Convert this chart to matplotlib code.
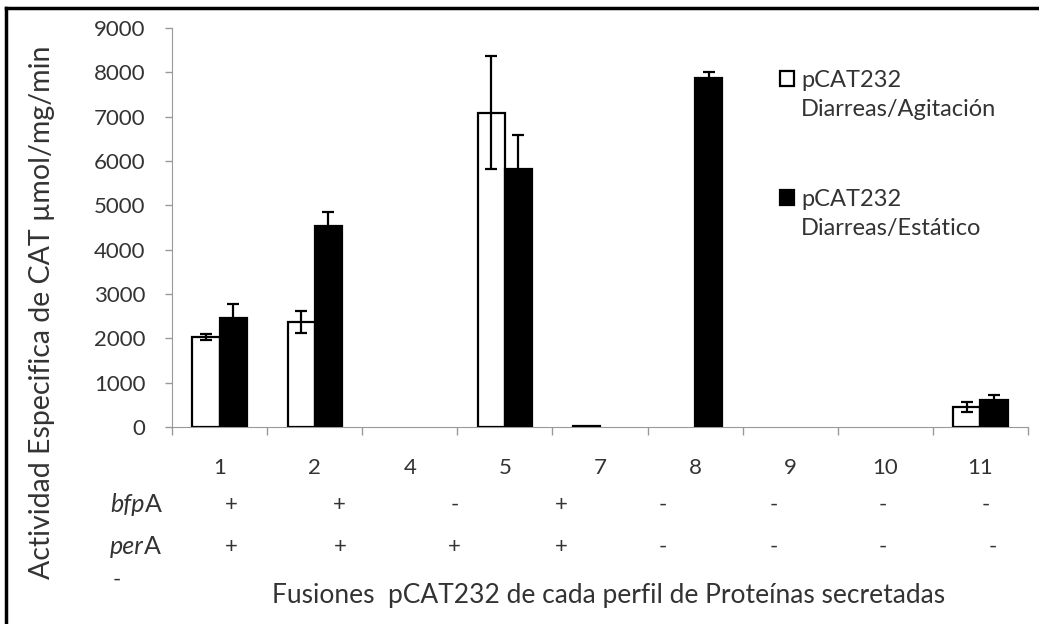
import matplotlib
matplotlib.use('Agg')
import matplotlib.pyplot as plt
from matplotlib.lines import Line2D
import numpy as np

plt.rcParams['font.family'] = ['Lato', 'DejaVu Sans']

# datos
cats = ['1', '2', '4', '5', '7', '8', '9', '10', '11']
agit = [2030, 2370, np.nan, 7090, 30, np.nan, np.nan, np.nan, 450]
agit_err = [70, 240, np.nan, 1270, np.nan, np.nan, np.nan, np.nan, 120]
estat = [2460, 4540, np.nan, 5820, np.nan, 7880, np.nan, np.nan, 610]
estat_err = [320, 310, np.nan, 770, np.nan, 130, np.nan, np.nan, 120]
series_names = ['pCAT232', 'pCAT232']
series_cond = ['Diarreas/Agitación', 'Diarreas/Estático']
bfp_signs = ['+', '+', '-', '+', '-', '-', '-', '-']
per_signs = ['+', '+', '+', '+', '-', '-', '-', '-']
bfp_xpx = [231, 339, 455, 561, 663, 774, 883, 986]
per_xpx = [231, 340, 454, 561, 663, 774, 883, 993]

W, H = 1039, 624
TXT = '#333333'
fig = plt.figure(figsize=(W / 100, H / 100), dpi=100)
ax = fig.add_axes([172 / W, 1 - 427 / H, (1028 - 172) / W, (427 - 28) / H])

x = np.arange(len(cats))
w = 0.285
ekw = dict(ecolor='black', elinewidth=1.6, capthick=1.6)
b1 = ax.bar(x - w / 2, agit, w, color='white', edgecolor='black', linewidth=1.6,
            yerr=agit_err, capsize=4.5, error_kw=ekw, zorder=3)
b2 = ax.bar(x + w / 2, estat, w, color='black', edgecolor='black', linewidth=1.6,
            yerr=estat_err, capsize=4.5, error_kw=ekw, zorder=3)

ax.set_xlim(-0.5, len(cats) - 0.5)
ax.set_ylim(0, 9000)
ax.set_yticks(np.arange(0, 9001, 1000))
ax.tick_params(axis='y', labelsize=16, colors='#999999', labelcolor=TXT,
               length=5, width=1, pad=14)
ax.set_xticks(x)
ax.set_xticklabels(cats)
ax.set_xticks(np.arange(-0.5, len(cats), 1), minor=True)
ax.tick_params(axis='x', which='major', length=0, labelsize=16,
               labelcolor=TXT, pad=22)
ax.tick_params(axis='x', which='minor', length=6, width=1, colors='#999999')
for s in ['top', 'right']:
    ax.spines[s].set_visible(False)
ax.spines['left'].set_color('#999999')
ax.spines['bottom'].set_color('#999999')

ax.set_ylabel('Actividad Especifica de CAT µmol/mg/min', fontsize=20.5, color=TXT)
ax.yaxis.set_label_coords(55 / W, 1 - 312 / H, transform=fig.transFigure)

leg = ax.legend(handles=[b1, b2], labels=series_names, loc='upper left',
                bbox_to_anchor=(780 / W, 1 - 70 / H), bbox_transform=fig.transFigure,
                frameon=False, fontsize=17, handlelength=0.6, handleheight=0.6,
                handletextpad=0.3, labelspacing=4.15, labelcolor=TXT,
                borderaxespad=0, borderpad=0)
for lt, cond in zip(leg.get_texts(), series_cond):
    ax.annotate(cond, xy=(0, 0), xycoords=lt, xytext=(0, -6),
                textcoords='offset points', fontsize=17, color=TXT,
                ha='left', va='top', zorder=6)

# filas de genes
t = fig.text(110 / W, 1 - 505 / H, 'bfp', style='italic', fontsize=18,
             color=TXT, va='center')
ax.annotate('A', xy=(1, 0), xycoords=t, fontsize=18, color=TXT, va='bottom')
t2 = fig.text(110 / W, 1 - 547 / H, 'per', style='italic', fontsize=18,
              color=TXT, va='center')
ax.annotate('A', xy=(1, 0), xycoords=t2, fontsize=18, color=TXT, va='bottom')
fig.text(117 / W, 1 - 580 / H, '-', fontsize=16, color=TXT, ha='center', va='center')

for s, xp in zip(bfp_signs, bfp_xpx):
    fig.text(xp / W, 1 - 505 / H, s, fontsize=16, color=TXT,
             ha='center', va='center')
for s, xp in zip(per_signs, per_xpx):
    fig.text(xp / W, 1 - 547 / H, s, fontsize=16, color=TXT,
             ha='center', va='center')

fig.text(609 / W, 1 - 595 / H, 'Fusiones  pCAT232 de cada perfil de Proteínas secretadas',
         fontsize=19, color=TXT, ha='center', va='center')

# marco
fig.add_artist(Line2D([6 / W, 1], [1 - 8 / H, 1 - 8 / H], color='black', lw=2.5,
                      transform=fig.transFigure))
fig.add_artist(Line2D([6 / W, 6 / W], [0, 1 - 8 / H], color='black', lw=2.5,
                      transform=fig.transFigure))

fig.savefig('out.png', dpi=100)
